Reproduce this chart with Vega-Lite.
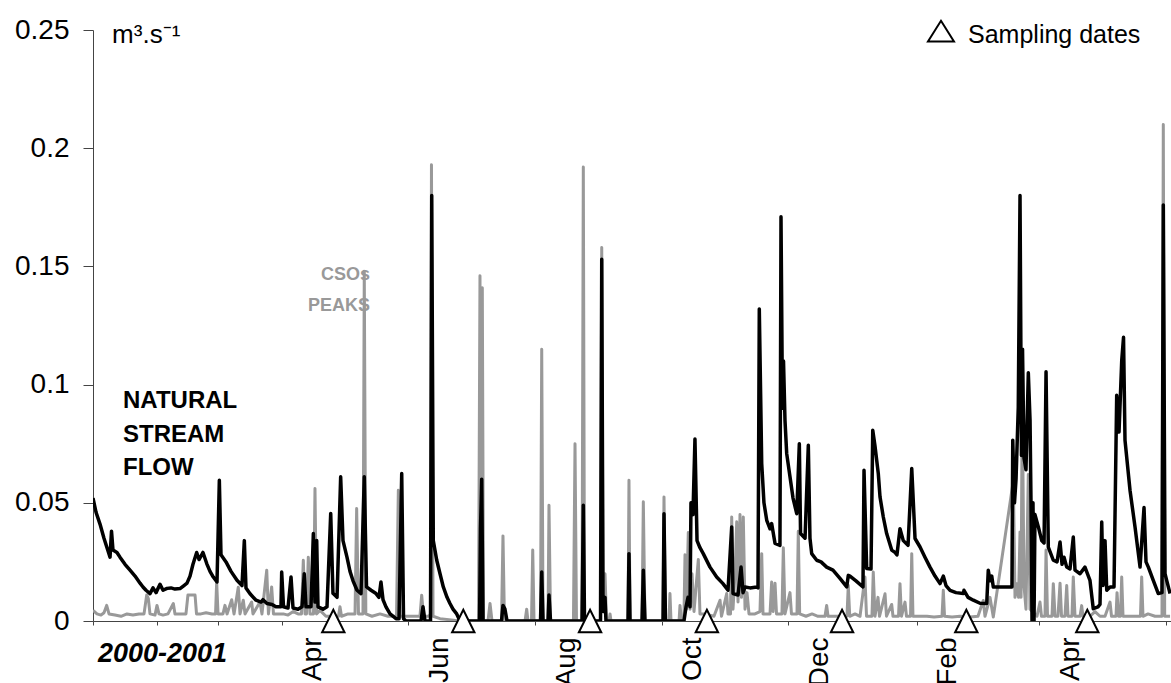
{
  "$schema": "https://vega.github.io/schema/vega-lite/v6.json",
  "width": 1078,
  "height": 591,
  "autosize": {"type": "none"},
  "padding": {"left": 93, "top": 30, "right": 0, "bottom": 62},
  "background": "white",
  "config": {"view": {"stroke": null}, "font": "Liberation Sans"},
  "datasets": {
    "flow": [
      {"t":"2000-01-01T00:00","q":0.052},{"t":"2000-01-02T11:00","q":0.046},{"t":"2000-01-04T09:00","q":0.041},{"t":"2000-01-06T07:00","q":0.035},
      {"t":"2000-01-07T18:00","q":0.031},{"t":"2000-01-09T05:00","q":0.027},{"t":"2000-01-09T22:00","q":0.038},{"t":"2000-01-10T15:00","q":0.030},
      {"t":"2000-01-12T13:00","q":0.029},{"t":"2000-01-14T00:00","q":0.027},{"t":"2000-01-16T10:00","q":0.024},{"t":"2000-01-18T20:00","q":0.0215},
      {"t":"2000-01-21T06:00","q":0.019},{"t":"2000-01-23T16:00","q":0.016},{"t":"2000-01-25T02:00","q":0.0144},{"t":"2000-01-26T13:00","q":0.013},
      {"t":"2000-01-28T11:00","q":0.0116},{"t":"2000-01-29T22:00","q":0.014},{"t":"2000-01-31T09:00","q":0.012},{"t":"2000-02-02T07:00","q":0.0155},
      {"t":"2000-02-03T18:00","q":0.013},{"t":"2000-02-05T16:00","q":0.0138},{"t":"2000-02-07T14:00","q":0.014},{"t":"2000-02-09T12:00","q":0.0135},
      {"t":"2000-02-11T22:00","q":0.0137},{"t":"2000-02-13T20:00","q":0.015},{"t":"2000-02-15T07:00","q":0.016},{"t":"2000-02-16T18:00","q":0.019},
      {"t":"2000-02-18T04:00","q":0.024},{"t":"2000-02-19T23:00","q":0.029},{"t":"2000-02-21T02:00","q":0.026},{"t":"2000-02-22T09:00","q":0.028},
      {"t":"2000-02-23T00:00","q":0.029},{"t":"2000-02-24T19:00","q":0.0243},{"t":"2000-02-26T09:00","q":0.021},{"t":"2000-02-27T23:00","q":0.0186},
      {"t":"2000-02-29T18:00","q":0.0165},{"t":"2000-03-01T21:00","q":0.0595},{"t":"2000-03-02T16:00","q":0.028},{"t":"2000-03-05T02:00","q":0.025},
      {"t":"2000-03-07T12:00","q":0.021},{"t":"2000-03-10T09:00","q":0.0172},{"t":"2000-03-12T19:00","q":0.015},{"t":"2000-03-13T22:00","q":0.034},
      {"t":"2000-03-14T17:00","q":0.014},{"t":"2000-03-16T16:00","q":0.0115},{"t":"2000-03-19T13:00","q":0.0088},{"t":"2000-03-21T23:00","q":0.008},
      {"t":"2000-03-22T22:00","q":0.009},{"t":"2000-03-24T20:00","q":0.0074},{"t":"2000-03-27T06:00","q":0.007},{"t":"2000-03-29T04:00","q":0.006},
      {"t":"2000-03-31T14:00","q":0.006},{"t":"2000-03-31T22:00","q":0.0207},{"t":"2000-04-01T19:00","q":0.006},{"t":"2000-04-03T23:00","q":0.0055},
      {"t":"2000-04-05T10:00","q":0.0186},{"t":"2000-04-06T09:00","q":0.0055},{"t":"2000-04-08T19:00","q":0.005},{"t":"2000-04-10T17:00","q":0.006},
      {"t":"2000-04-11T19:00","q":0.020},{"t":"2000-04-12T15:00","q":0.006},{"t":"2000-04-15T01:00","q":0.006},{"t":"2000-04-16T04:00","q":0.037},
      {"t":"2000-04-16T23:00","q":0.008},{"t":"2000-04-17T19:00","q":0.034},{"t":"2000-04-18T10:00","q":0.006},{"t":"2000-04-20T20:00","q":0.005},
      {"t":"2000-04-22T18:00","q":0.006},{"t":"2000-04-24T13:00","q":0.0455},{"t":"2000-04-25T15:00","q":0.0117},{"t":"2000-04-27T14:00","q":0.010},
      {"t":"2000-04-29T08:00","q":0.061},{"t":"2000-04-30T11:00","q":0.034},{"t":"2000-05-02T09:00","q":0.027},{"t":"2000-05-03T20:00","q":0.021},
      {"t":"2000-05-05T07:00","q":0.017},{"t":"2000-05-07T05:00","q":0.013},{"t":"2000-05-09T03:00","q":0.0116},{"t":"2000-05-10T17:00","q":0.061},
      {"t":"2000-05-11T19:00","q":0.0144},{"t":"2000-05-13T23:00","q":0.013},{"t":"2000-05-16T09:00","q":0.0116},{"t":"2000-05-17T19:00","q":0.010},
      {"t":"2000-05-18T18:00","q":0.0165},{"t":"2000-05-19T18:00","q":0.009},{"t":"2000-05-21T04:00","q":0.006},{"t":"2000-05-23T03:00","q":0.003},
      {"t":"2000-05-26T00:00","q":0.001},{"t":"2000-05-27T11:00","q":0.001},{"t":"2000-05-28T18:00","q":0.0624},{"t":"2000-05-29T15:00","q":0.001},
      {"t":"2000-05-30T19:00","q":0},{"t":"2000-06-07T01:00","q":0},{"t":"2000-06-08T00:00","q":0.006},{"t":"2000-06-08T23:00","q":0},
      {"t":"2000-06-11T15:00","q":0},{"t":"2000-06-12T05:00","q":0.180},{"t":"2000-06-12T23:00","q":0.034},{"t":"2000-06-14T15:00","q":0.0257},
      {"t":"2000-06-16T05:00","q":0.020},{"t":"2000-06-17T19:00","q":0.0144},{"t":"2000-06-19T14:00","q":0.010},{"t":"2000-06-21T00:00","q":0.0074},
      {"t":"2000-06-22T11:00","q":0.005},{"t":"2000-06-24T06:00","q":0.003},{"t":"2000-06-25T20:00","q":0},{"t":"2000-07-05T06:00","q":0},
      {"t":"2000-07-05T17:00","q":0.039},{"t":"2000-07-06T07:00","q":0.060},{"t":"2000-07-06T22:00","q":0},{"t":"2000-07-15T20:00","q":0},
      {"t":"2000-07-16T13:00","q":0.0066},{"t":"2000-07-17T12:00","q":0.005},{"t":"2000-07-18T12:00","q":0},{"t":"2000-08-03T15:00","q":0},
      {"t":"2000-08-04T05:00","q":0.0207},{"t":"2000-08-04T20:00","q":0},{"t":"2000-08-07T06:00","q":0},{"t":"2000-08-07T17:00","q":0.011},
      {"t":"2000-08-08T11:00","q":0},{"t":"2000-08-23T15:00","q":0},{"t":"2000-08-24T06:00","q":0.049},{"t":"2000-08-24T20:00","q":0},
      {"t":"2000-09-01T13:00","q":0},{"t":"2000-09-02T03:00","q":0.153},{"t":"2000-09-02T18:00","q":0.004},{"t":"2000-09-03T17:00","q":0.010},
      {"t":"2000-09-04T04:00","q":0},{"t":"2000-09-14T19:00","q":0},{"t":"2000-09-15T06:00","q":0.0285},{"t":"2000-09-15T18:00","q":0},
      {"t":"2000-09-21T13:00","q":0},{"t":"2000-09-22T04:00","q":0.0215},{"t":"2000-09-22T23:00","q":0},{"t":"2000-10-01T16:00","q":0},
      {"t":"2000-10-02T03:00","q":0.0454},{"t":"2000-10-02T20:00","q":0},{"t":"2000-10-11T18:00","q":0},{"t":"2000-10-12T18:00","q":0.006},
      {"t":"2000-10-13T17:00","q":0.010},{"t":"2000-10-14T16:00","q":0.006},{"t":"2000-10-15T03:00","q":0.050},{"t":"2000-10-16T02:00","q":0.045},
      {"t":"2000-10-17T01:00","q":0.077},{"t":"2000-10-18T01:00","q":0.034},{"t":"2000-10-19T11:00","q":0.031},{"t":"2000-10-21T01:00","q":0.0285},
      {"t":"2000-10-24T07:00","q":0.0228},{"t":"2000-10-27T12:00","q":0.0186},{"t":"2000-10-30T13:00","q":0.0158},{"t":"2000-11-01T23:00","q":0.013},
      {"t":"2000-11-03T18:00","q":0.0398},{"t":"2000-11-04T09:00","q":0.0116},{"t":"2000-11-06T19:00","q":0.011},{"t":"2000-11-08T06:00","q":0.0228},
      {"t":"2000-11-09T05:00","q":0.012},{"t":"2000-11-10T04:00","q":0.0144},{"t":"2000-11-12T14:00","q":0.014},{"t":"2000-11-15T19:00","q":0.0144},
      {"t":"2000-11-16T10:00","q":0.014},{"t":"2000-11-17T01:00","q":0.132},{"t":"2000-11-18T05:00","q":0.0666},{"t":"2000-11-19T07:00","q":0.050},
      {"t":"2000-11-20T15:00","q":0.0426},{"t":"2000-11-22T05:00","q":0.039},{"t":"2000-11-23T00:00","q":0.0412},{"t":"2000-11-24T15:00","q":0.0328},
      {"t":"2000-11-27T00:00","q":0.032},{"t":"2000-11-27T12:00","q":0.171},{"t":"2000-11-28T05:00","q":0.09},{"t":"2000-11-28T17:00","q":0.11},
      {"t":"2000-11-29T10:00","q":0.085},{"t":"2000-11-30T06:00","q":0.0708},{"t":"2000-12-01T20:00","q":0.061},{"t":"2000-12-03T07:00","q":0.052},
      {"t":"2000-12-05T02:00","q":0.0454},{"t":"2000-12-06T08:00","q":0.075},{"t":"2000-12-06T22:00","q":0.037},{"t":"2000-12-09T02:00","q":0.035},
      {"t":"2000-12-10T16:00","q":0.0743},{"t":"2000-12-11T11:00","q":0.035},{"t":"2000-12-12T07:00","q":0.0285},{"t":"2000-12-14T17:00","q":0.0257},
      {"t":"2000-12-16T19:00","q":0.025},{"t":"2000-12-19T12:00","q":0.0228},{"t":"2000-12-22T13:00","q":0.0215},{"t":"2000-12-25T22:00","q":0.018},
      {"t":"2000-12-29T04:00","q":0.0144},{"t":"2000-12-29T22:00","q":0.0193},{"t":"2000-12-30T18:00","q":0.019},{"t":"2001-01-02T15:00","q":0.017},
      {"t":"2001-01-06T00:00","q":0.0144},{"t":"2001-01-06T12:00","q":0.0638},{"t":"2001-01-07T19:00","q":0.0222},{"t":"2001-01-09T21:00","q":0.022},
      {"t":"2001-01-10T17:00","q":0.0807},{"t":"2001-01-11T19:00","q":0.074},{"t":"2001-01-13T09:00","q":0.0624},{"t":"2001-01-14T05:00","q":0.0525},
      {"t":"2001-01-15T19:00","q":0.044},{"t":"2001-01-17T10:00","q":0.037},{"t":"2001-01-19T20:00","q":0.030},{"t":"2001-01-21T10:00","q":0.029},
      {"t":"2001-01-22T09:00","q":0.028},{"t":"2001-01-23T20:00","q":0.039},{"t":"2001-01-25T10:00","q":0.034},{"t":"2001-01-27T17:00","q":0.032},
      {"t":"2001-01-29T12:00","q":0.0645},{"t":"2001-01-31T02:00","q":0.0349},{"t":"2001-02-02T12:00","q":0.0313},{"t":"2001-02-04T21:00","q":0.027},
      {"t":"2001-02-07T07:00","q":0.0228},{"t":"2001-02-09T17:00","q":0.019},{"t":"2001-02-12T03:00","q":0.0158},{"t":"2001-02-13T17:00","q":0.019},
      {"t":"2001-02-15T00:00","q":0.015},{"t":"2001-02-16T23:00","q":0.013},{"t":"2001-02-19T20:00","q":0.012},{"t":"2001-02-23T08:00","q":0.0116},
      {"t":"2001-02-23T16:00","q":0.013},{"t":"2001-02-25T15:00","q":0.010},{"t":"2001-02-28T04:00","q":0.0088},{"t":"2001-03-03T09:00","q":0.0075},
      {"t":"2001-03-06T15:00","q":0.0074},{"t":"2001-03-07T09:00","q":0.0215},{"t":"2001-03-08T05:00","q":0.017},{"t":"2001-03-09T01:00","q":0.019},
      {"t":"2001-03-09T19:00","q":0.0144},{"t":"2001-03-18T19:00","q":0.0144},{"t":"2001-03-19T04:00","q":0.0765},{"t":"2001-03-20T00:00","q":0.050},
      {"t":"2001-03-20T18:00","q":0.060},{"t":"2001-03-21T20:00","q":0.0906},{"t":"2001-03-22T16:00","q":0.180},{"t":"2001-03-23T09:00","q":0.070},
      {"t":"2001-03-23T21:00","q":0.115},{"t":"2001-03-24T14:00","q":0.069},{"t":"2001-03-25T13:00","q":0.064},{"t":"2001-03-26T16:00","q":0.105},
      {"t":"2001-03-27T12:00","q":0.085},{"t":"2001-03-27T23:00","q":0.050},{"t":"2001-03-28T11:00","q":0},{"t":"2001-03-28T22:00","q":0.050},
      {"t":"2001-03-29T10:00","q":0},{"t":"2001-03-29T21:00","q":0.045},{"t":"2001-03-31T12:00","q":0.0398},{"t":"2001-04-02T03:00","q":0.034},
      {"t":"2001-04-03T06:00","q":0.033},{"t":"2001-04-04T05:00","q":0.1054},{"t":"2001-04-05T07:00","q":0.0313},{"t":"2001-04-07T17:00","q":0.0257},
      {"t":"2001-04-09T12:00","q":0.025},{"t":"2001-04-10T23:00","q":0.0334},{"t":"2001-04-11T22:00","q":0.024},{"t":"2001-04-12T21:00","q":0.027},
      {"t":"2001-04-14T04:00","q":0.0228},{"t":"2001-04-15T18:00","q":0.022},{"t":"2001-04-17T08:00","q":0.0355},{"t":"2001-04-18T04:00","q":0.0215},
      {"t":"2001-04-20T14:00","q":0.020},{"t":"2001-04-22T23:00","q":0.0228},{"t":"2001-04-25T09:00","q":0.0172},{"t":"2001-04-26T23:00","q":0.0052},
      {"t":"2001-04-29T06:00","q":0.006},{"t":"2001-04-30T05:00","q":0.007},{"t":"2001-05-01T01:00","q":0.0419},{"t":"2001-05-01T16:00","q":0.015},
      {"t":"2001-05-02T15:00","q":0.034},{"t":"2001-05-03T11:00","q":0.013},{"t":"2001-05-05T01:00","q":0.0144},{"t":"2001-05-06T23:00","q":0.0144},
      {"t":"2001-05-08T06:00","q":0.0955},{"t":"2001-05-09T09:00","q":0.080},{"t":"2001-05-10T16:00","q":0.110},{"t":"2001-05-11T13:00","q":0.120},
      {"t":"2001-05-12T06:00","q":0.0765},{"t":"2001-05-14T16:00","q":0.0553},{"t":"2001-05-17T02:00","q":0.0398},{"t":"2001-05-19T12:00","q":0.0228},
      {"t":"2001-05-21T10:00","q":0.048},{"t":"2001-05-22T09:00","q":0.025},{"t":"2001-05-23T12:00","q":0.0228},{"t":"2001-05-25T21:00","q":0.0172},
      {"t":"2001-05-28T07:00","q":0.0116},{"t":"2001-05-30T02:00","q":0.012},{"t":"2001-05-30T17:00","q":0.176},{"t":"2001-05-31T13:00","q":0.020},
      {"t":"2001-06-01T08:00","q":0.0172},{"t":"2001-06-02T23:00","q":0.0116}
    ],
    "cso": [
      {"t":"2000-01-01T00:00","q":0.0045},{"t":"2000-01-02T22:00","q":0.003},{"t":"2000-01-04T20:00","q":0.0025},{"t":"2000-01-06T07:00","q":0.0035},
      {"t":"2000-01-07T14:00","q":0.0066},{"t":"2000-01-08T17:00","q":0.003},{"t":"2000-01-11T14:00","q":0.0025},{"t":"2000-01-14T12:00","q":0.002},
      {"t":"2000-01-17T09:00","q":0.003},{"t":"2000-01-20T06:00","q":0.0025},{"t":"2000-01-23T04:00","q":0.003},{"t":"2000-01-25T14:00","q":0.003},
      {"t":"2000-01-26T21:00","q":0.011},{"t":"2000-01-27T16:00","q":0.0095},{"t":"2000-01-28T11:00","q":0.003},{"t":"2000-01-30T21:00","q":0.0025},
      {"t":"2000-01-31T20:00","q":0.0066},{"t":"2000-02-01T19:00","q":0.003},{"t":"2000-02-03T18:00","q":0.0025},{"t":"2000-02-06T03:00","q":0.003},
      {"t":"2000-02-08T17:00","q":0.0074},{"t":"2000-02-09T12:00","q":0.003},{"t":"2000-02-11T22:00","q":0.003},{"t":"2000-02-14T19:00","q":0.003},
      {"t":"2000-02-15T18:00","q":0.011},{"t":"2000-02-19T04:00","q":0.011},{"t":"2000-02-19T21:00","q":0.003},{"t":"2000-02-22T01:00","q":0.003},
      {"t":"2000-02-24T11:00","q":0.0035},{"t":"2000-02-27T08:00","q":0.003},{"t":"2000-02-29T01:00","q":0.003},{"t":"2000-02-29T14:00","q":0.0165},
      {"t":"2000-03-01T06:00","q":0.003},{"t":"2000-03-03T15:00","q":0.003},{"t":"2000-03-04T14:00","q":0.0066},{"t":"2000-03-05T14:00","q":0.003},
      {"t":"2000-03-07T20:00","q":0.009},{"t":"2000-03-08T23:00","q":0.003},{"t":"2000-03-11T00:00","q":0.0143},{"t":"2000-03-11T20:00","q":0.003},
      {"t":"2000-03-13T10:00","q":0.0088},{"t":"2000-03-14T06:00","q":0.003},{"t":"2000-03-17T11:00","q":0.008},{"t":"2000-03-18T02:00","q":0.003},
      {"t":"2000-03-21T11:00","q":0.008},{"t":"2000-03-22T10:00","q":0.003},{"t":"2000-03-24T17:00","q":0.0215},{"t":"2000-03-25T13:00","q":0.003},
      {"t":"2000-03-27T02:00","q":0.0144},{"t":"2000-03-27T23:00","q":0.003},{"t":"2000-03-30T03:00","q":0.003},{"t":"2000-04-01T17:00","q":0.003},
      {"t":"2000-04-03T23:00","q":0.0025},{"t":"2000-04-06T12:00","q":0.004},{"t":"2000-04-08T19:00","q":0.003},{"t":"2000-04-10T11:00","q":0.003},
      {"t":"2000-04-11T08:00","q":0.0257},{"t":"2000-04-12T04:00","q":0.003},{"t":"2000-04-12T21:00","q":0.003},{"t":"2000-04-13T18:00","q":0.027},
      {"t":"2000-04-14T13:00","q":0.003},{"t":"2000-04-16T06:00","q":0.003},{"t":"2000-04-16T23:00","q":0.056},{"t":"2000-04-17T17:00","q":0.003},
      {"t":"2000-04-19T09:00","q":0.0045},{"t":"2000-04-22T06:00","q":0.002},{"t":"2000-04-25T04:00","q":0.002},{"t":"2000-04-28T07:00","q":0.002},
      {"t":"2000-04-29T00:00","q":0.006},{"t":"2000-04-29T18:00","q":0.002},{"t":"2000-05-02T21:00","q":0.003},{"t":"2000-05-06T06:00","q":0.003},
      {"t":"2000-05-07T01:00","q":0.0476},{"t":"2000-05-07T22:00","q":0.003},{"t":"2000-05-10T02:00","q":0.003},{"t":"2000-05-10T17:00","q":0.148},
      {"t":"2000-05-11T11:00","q":0.003},{"t":"2000-05-14T10:00","q":0.002},{"t":"2000-05-18T07:00","q":0.003},{"t":"2000-05-22T03:00","q":0.002},
      {"t":"2000-05-26T06:00","q":0.002},{"t":"2000-05-27T03:00","q":0.0553},{"t":"2000-05-27T22:00","q":0.002},{"t":"2000-05-30T19:00","q":0.002},
      {"t":"2000-06-03T16:00","q":0.002},{"t":"2000-06-06T13:00","q":0.002},{"t":"2000-06-07T09:00","q":0.0109},{"t":"2000-06-08T06:00","q":0.002},
      {"t":"2000-06-10T22:00","q":0.002},{"t":"2000-06-11T15:00","q":0.003},{"t":"2000-06-12T02:00","q":0.193},{"t":"2000-06-12T20:00","q":0.002},
      {"t":"2000-06-16T05:00","q":0.001},{"t":"2000-06-25T20:00","q":0},{"t":"2000-07-04T18:00","q":0},{"t":"2000-07-05T11:00","q":0.146},
      {"t":"2000-07-05T23:00","q":0.02},{"t":"2000-07-06T14:00","q":0.141},{"t":"2000-07-07T04:00","q":0},{"t":"2000-07-09T08:00","q":0},
      {"t":"2000-07-10T07:00","q":0.0074},{"t":"2000-07-11T06:00","q":0},{"t":"2000-07-15T20:00","q":0},{"t":"2000-07-16T13:00","q":0.036},
      {"t":"2000-07-17T06:00","q":0},{"t":"2000-07-27T04:00","q":0},{"t":"2000-07-27T23:00","q":0.005},{"t":"2000-07-28T14:00","q":0},
      {"t":"2000-07-30T07:00","q":0},{"t":"2000-07-30T21:00","q":0.030},{"t":"2000-07-31T12:00","q":0},{"t":"2000-08-03T15:00","q":0},
      {"t":"2000-08-04T05:00","q":0.115},{"t":"2000-08-04T20:00","q":0},{"t":"2000-08-07T06:00","q":0},{"t":"2000-08-07T17:00","q":0.049},
      {"t":"2000-08-08T11:00","q":0},{"t":"2000-08-19T12:00","q":0},{"t":"2000-08-20T06:00","q":0.075},{"t":"2000-08-20T23:00","q":0},
      {"t":"2000-08-23T15:00","q":0},{"t":"2000-08-24T06:00","q":0.192},{"t":"2000-08-24T20:00","q":0},{"t":"2000-09-01T13:00","q":0},
      {"t":"2000-09-02T03:00","q":0.158},{"t":"2000-09-02T18:00","q":0.005},{"t":"2000-09-03T17:00","q":0.020},{"t":"2000-09-04T10:00","q":0},
      {"t":"2000-09-05T15:00","q":0},{"t":"2000-09-06T03:00","q":0.003},{"t":"2000-09-06T14:00","q":0},{"t":"2000-09-14T19:00","q":0},
      {"t":"2000-09-15T06:00","q":0.0595},{"t":"2000-09-15T18:00","q":0},{"t":"2000-09-21T13:00","q":0},{"t":"2000-09-22T04:00","q":0.0504},
      {"t":"2000-09-22T23:00","q":0},{"t":"2000-10-01T16:00","q":0},{"t":"2000-10-02T03:00","q":0.0525},{"t":"2000-10-02T20:00","q":0},
      {"t":"2000-10-04T13:00","q":0},{"t":"2000-10-05T00:00","q":0.0116},{"t":"2000-10-05T12:00","q":0},{"t":"2000-10-09T09:00","q":0},
      {"t":"2000-10-09T20:00","q":0.0066},{"t":"2000-10-10T13:00","q":0},{"t":"2000-10-11T18:00","q":0.002},{"t":"2000-10-12T06:00","q":0.028},
      {"t":"2000-10-12T23:00","q":0.005},{"t":"2000-10-13T20:00","q":0.0374},{"t":"2000-10-14T16:00","q":0.005},{"t":"2000-10-15T15:00","q":0.02},
      {"t":"2000-10-16T14:00","q":0.004},{"t":"2000-10-18T16:00","q":0.026},{"t":"2000-10-19T11:00","q":0.003},{"t":"2000-10-21T21:00","q":0.003},
      {"t":"2000-10-26T05:00","q":0.002},{"t":"2000-10-29T03:00","q":0.0088},{"t":"2000-10-29T20:00","q":0.002},{"t":"2000-11-01T08:00","q":0.0116},
      {"t":"2000-11-01T23:00","q":0.003},{"t":"2000-11-03T04:00","q":0.003},{"t":"2000-11-03T18:00","q":0.044},{"t":"2000-11-04T09:00","q":0.005},
      {"t":"2000-11-05T08:00","q":0.02},{"t":"2000-11-06T04:00","q":0.042},{"t":"2000-11-06T19:00","q":0.008},{"t":"2000-11-07T18:00","q":0.045},
      {"t":"2000-11-08T11:00","q":0.01},{"t":"2000-11-09T08:00","q":0.044},{"t":"2000-11-10T04:00","q":0.005},{"t":"2000-11-11T03:00","q":0.012},
      {"t":"2000-11-12T02:00","q":0.003},{"t":"2000-11-14T23:00","q":0.003},{"t":"2000-11-17T09:00","q":0.004},{"t":"2000-11-18T05:00","q":0.0285},
      {"t":"2000-11-18T20:00","q":0.003},{"t":"2000-11-22T05:00","q":0.003},{"t":"2000-11-23T00:00","q":0.0165},{"t":"2000-11-23T16:00","q":0.004},
      {"t":"2000-11-24T15:00","q":0.016},{"t":"2000-11-25T08:00","q":0.003},{"t":"2000-11-27T23:00","q":0.003},{"t":"2000-11-28T15:00","q":0.031},
      {"t":"2000-11-29T10:00","q":0.003},{"t":"2000-12-01T20:00","q":0.012},{"t":"2000-12-02T13:00","q":0.003},{"t":"2000-12-05T05:00","q":0.003},
      {"t":"2000-12-05T20:00","q":0.038},{"t":"2000-12-06T12:00","q":0.003},{"t":"2000-12-09T13:00","q":0.002},{"t":"2000-12-12T11:00","q":0.003},
      {"t":"2000-12-15T08:00","q":0.002},{"t":"2000-12-18T17:00","q":0.002},{"t":"2000-12-19T12:00","q":0.0066},{"t":"2000-12-20T04:00","q":0.002},
      {"t":"2000-12-23T12:00","q":0.002},{"t":"2000-12-26T22:00","q":0.002},{"t":"2000-12-29T07:00","q":0.002},{"t":"2000-12-29T22:00","q":0.0151},
      {"t":"2000-12-30T15:00","q":0.002},{"t":"2001-01-02T04:00","q":0.003},{"t":"2001-01-04T14:00","q":0.002},{"t":"2001-01-06T23:00","q":0.0186},
      {"t":"2001-01-07T17:00","q":0.002},{"t":"2001-01-10T08:00","q":0.002},{"t":"2001-01-10T23:00","q":0.0207},{"t":"2001-01-11T19:00","q":0.002},
      {"t":"2001-01-13T06:00","q":0.010},{"t":"2001-01-13T23:00","q":0.002},{"t":"2001-01-16T15:00","q":0.0115},{"t":"2001-01-17T08:00","q":0.002},
      {"t":"2001-01-19T20:00","q":0.007},{"t":"2001-01-20T11:00","q":0.002},{"t":"2001-01-23T03:00","q":0.002},{"t":"2001-01-23T20:00","q":0.0158},
      {"t":"2001-01-24T13:00","q":0.002},{"t":"2001-01-26T06:00","q":0.008},{"t":"2001-01-26T23:00","q":0.002},{"t":"2001-01-28T22:00","q":0.002},
      {"t":"2001-01-29T12:00","q":0.0285},{"t":"2001-01-30T02:00","q":0.002},{"t":"2001-02-02T12:00","q":0.002},{"t":"2001-02-05T20:00","q":0.002},
      {"t":"2001-02-09T06:00","q":0.0017},{"t":"2001-02-13T02:00","q":0.002},{"t":"2001-02-13T17:00","q":0.013},{"t":"2001-02-14T07:00","q":0.002},
      {"t":"2001-02-17T22:00","q":0.0017},{"t":"2001-02-21T18:00","q":0.002},{"t":"2001-02-26T14:00","q":0.0017},{"t":"2001-03-02T10:00","q":0.002},
      {"t":"2001-03-04T23:00","q":0.0087},{"t":"2001-03-05T19:00","q":0.002},{"t":"2001-03-08T05:00","q":0.010},{"t":"2001-03-09T19:00","q":0.0017},
      {"t":"2001-03-19T11:00","q":0.0595},{"t":"2001-03-20T06:00","q":0.01},{"t":"2001-03-21T02:00","q":0.0158},{"t":"2001-03-21T23:00","q":0.01},
      {"t":"2001-03-22T16:00","q":0.0377},{"t":"2001-03-23T04:00","q":0.01},{"t":"2001-03-23T18:00","q":0.095},{"t":"2001-03-24T14:00","q":0.015},
      {"t":"2001-03-25T13:00","q":0.005},{"t":"2001-03-26T16:00","q":0.062},{"t":"2001-03-27T12:00","q":0.005},{"t":"2001-03-30T20:00","q":0.002},
      {"t":"2001-04-01T07:00","q":0.008},{"t":"2001-04-02T00:00","q":0.002},{"t":"2001-04-03T17:00","q":0.002},{"t":"2001-04-04T05:00","q":0.030},
      {"t":"2001-04-04T22:00","q":0.002},{"t":"2001-04-07T02:00","q":0.002},{"t":"2001-04-07T17:00","q":0.0158},{"t":"2001-04-08T13:00","q":0.002},
      {"t":"2001-04-09T23:00","q":0.002},{"t":"2001-04-10T23:00","q":0.016},{"t":"2001-04-11T16:00","q":0.002},{"t":"2001-04-13T08:00","q":0.002},
      {"t":"2001-04-14T04:00","q":0.015},{"t":"2001-04-14T19:00","q":0.002},{"t":"2001-04-16T17:00","q":0.002},{"t":"2001-04-17T08:00","q":0.0186},
      {"t":"2001-04-18T04:00","q":0.002},{"t":"2001-04-20T14:00","q":0.002},{"t":"2001-04-21T09:00","q":0.0065},{"t":"2001-04-22T00:00","q":0.002},
      {"t":"2001-04-25T09:00","q":0.002},{"t":"2001-04-27T19:00","q":0.004},{"t":"2001-04-30T05:00","q":0.002},{"t":"2001-05-02T15:00","q":0.002},
      {"t":"2001-05-05T01:00","q":0.008},{"t":"2001-05-05T18:00","q":0.002},{"t":"2001-05-07T22:00","q":0.002},{"t":"2001-05-08T10:00","q":0.012},
      {"t":"2001-05-09T03:00","q":0.002},{"t":"2001-05-10T02:00","q":0.002},{"t":"2001-05-10T16:00","q":0.0186},{"t":"2001-05-11T07:00","q":0.002},
      {"t":"2001-05-14T16:00","q":0.002},{"t":"2001-05-17T02:00","q":0.002},{"t":"2001-05-19T17:00","q":0.002},{"t":"2001-05-20T07:00","q":0.0186},
      {"t":"2001-05-20T22:00","q":0.002},{"t":"2001-05-23T08:00","q":0.003},{"t":"2001-05-26T17:00","q":0.002},{"t":"2001-05-30T02:00","q":0.002},
      {"t":"2001-05-30T17:00","q":0.21},{"t":"2001-05-31T09:00","q":0.002},{"t":"2001-06-02T23:00","q":0.002}
    ],
    "samples": [
      {"t":"2000-04-25T19:00"},{"t":"2000-06-27T10:00"},{"t":"2000-08-27T12:00"},{"t":"2000-10-22T19:00"},
      {"t":"2000-12-26T22:00"},{"t":"2001-02-24T19:00"},{"t":"2001-04-24T02:00"}
    ],
    "one": [{"k": 1}]
  },
  "layer": [
    {
      "data": {"name": "cso"},
      "mark": {"type": "line", "color": "#999999", "strokeWidth": 3, "strokeJoin": "round", "clip": true},
      "encoding": {
        "x": {
          "field": "t", "type": "temporal",
          "scale": {"domain": [{"year": 2000, "month": 1, "date": 1}, {"year": 2001, "month": 6, "date": 3, "hours": 10}], "nice": false},
          "axis": {
            "title": null, "grid": false,
            "values": [
              {"year": 2000, "month": 1, "date": 1}, {"year": 2000, "month": 2, "date": 1}, {"year": 2000, "month": 3, "date": 1},
              {"year": 2000, "month": 4, "date": 1}, {"year": 2000, "month": 6, "date": 1}, {"year": 2000, "month": 8, "date": 1},
              {"year": 2000, "month": 10, "date": 1}, {"year": 2000, "month": 12, "date": 1}, {"year": 2001, "month": 2, "date": 1},
              {"year": 2001, "month": 4, "date": 1}, {"year": 2001, "month": 6, "date": 1}
            ],
            "labelExpr": "datum.value >= datetime(2000,3,1) && datum.value <= datetime(2001,3,2) ? timeFormat(datum.value, '%b') : ''",
            "labelAngle": -90, "labelOffset": 31, "labelFontSize": 28, "labelFont": "Liberation Sans", "labelColor": "black",
            "labelPadding": 12, "tickSize": 4, "tickColor": "#444444", "domainColor": "#444444",
            "labelFlush": false, "labelOverlap": false, "labelBound": false
          }
        },
        "y": {
          "field": "q", "type": "quantitative",
          "scale": {"domain": [0, 0.25], "nice": false},
          "axis": {
            "title": null, "grid": false, "values": [0, 0.05, 0.1, 0.15, 0.2, 0.25], "format": "~g",
            "labelFontSize": 28, "labelFont": "Liberation Sans", "labelColor": "black", "labelPadding": 14,
            "tickSize": 10, "tickColor": "#444444", "domainColor": "#444444"
          }
        }
      }
    },
    {
      "data": {"name": "flow"},
      "mark": {"type": "line", "color": "#000000", "strokeWidth": 3.5, "strokeJoin": "round", "clip": true},
      "encoding": {
        "x": {"field": "t", "type": "temporal"},
        "y": {"field": "q", "type": "quantitative"}
      }
    },
    {
      "data": {"name": "samples"},
      "mark": {"type": "point", "shape": "M0,-1L1,1L-1,1Z", "size": 500, "filled": true, "fill": "white", "stroke": "black", "strokeWidth": 2, "opacity": 1},
      "encoding": {
        "x": {"field": "t", "type": "temporal"},
        "y": {"datum": 0}
      }
    },
    {
      "data": {"name": "one"},
      "mark": {"type": "point", "shape": "M0,-0.8L1,0.8L-1,0.8Z", "size": 676, "filled": true, "fill": "white", "stroke": "black", "strokeWidth": 2, "opacity": 1},
      "encoding": {
        "x": {"datum": {"year": 2001, "month": 2, "date": 12, "hours": 14}, "type": "temporal"},
        "y": {"datum": 0.2495}
      }
    },
    {
      "data": {"name": "one"},
      "mark": {"type": "text", "text": "Sampling dates", "align": "left", "baseline": "alphabetic", "fontSize": 25, "font": "Liberation Sans", "color": "black"},
      "encoding": {
        "x": {"datum": {"year": 2001, "month": 2, "date": 25, "hours": 15}, "type": "temporal"},
        "y": {"datum": 0.2445}
      }
    },
    {
      "data": {"name": "one"},
      "mark": {"type": "text", "text": "m³.s⁻¹", "align": "left", "baseline": "alphabetic", "fontSize": 26, "font": "Liberation Sans", "color": "black"},
      "encoding": {
        "x": {"datum": {"year": 2000, "month": 1, "date": 10, "hours": 5}, "type": "temporal"},
        "y": {"datum": 0.2445}
      }
    },
    {
      "data": {"name": "one"},
      "mark": {"type": "text", "text": "NATURAL", "align": "left", "baseline": "alphabetic", "fontSize": 24, "fontWeight": "bold", "font": "Liberation Sans", "color": "black"},
      "encoding": {
        "x": {"datum": {"year": 2000, "month": 1, "date": 15, "hours": 11}, "type": "temporal"},
        "y": {"datum": 0.0899}
      }
    },
    {
      "data": {"name": "one"},
      "mark": {"type": "text", "text": "STREAM", "align": "left", "baseline": "alphabetic", "fontSize": 24, "fontWeight": "bold", "font": "Liberation Sans", "color": "black"},
      "encoding": {
        "x": {"datum": {"year": 2000, "month": 1, "date": 15, "hours": 11}, "type": "temporal"},
        "y": {"datum": 0.0757}
      }
    },
    {
      "data": {"name": "one"},
      "mark": {"type": "text", "text": "FLOW", "align": "left", "baseline": "alphabetic", "fontSize": 24, "fontWeight": "bold", "font": "Liberation Sans", "color": "black"},
      "encoding": {
        "x": {"datum": {"year": 2000, "month": 1, "date": 15, "hours": 11}, "type": "temporal"},
        "y": {"datum": 0.0616}
      }
    },
    {
      "data": {"name": "one"},
      "mark": {"type": "text", "text": "CSOs", "align": "right", "baseline": "alphabetic", "fontSize": 18, "fontWeight": "bold", "font": "Liberation Sans", "color": "#999999"},
      "encoding": {
        "x": {"datum": {"year": 2000, "month": 5, "date": 13, "hours": 12}, "type": "temporal"},
        "y": {"datum": 0.1441}
      }
    },
    {
      "data": {"name": "one"},
      "mark": {"type": "text", "text": "PEAKS", "align": "right", "baseline": "alphabetic", "fontSize": 18, "fontWeight": "bold", "font": "Liberation Sans", "color": "#999999"},
      "encoding": {
        "x": {"datum": {"year": 2000, "month": 5, "date": 13, "hours": 12}, "type": "temporal"},
        "y": {"datum": 0.1311}
      }
    },
    {
      "data": {"name": "one"},
      "mark": {"type": "text", "text": "2000-2001", "align": "left", "baseline": "alphabetic", "fontSize": 27, "fontWeight": "bold", "fontStyle": "italic", "font": "Liberation Sans", "color": "black"},
      "encoding": {
        "x": {"datum": {"year": 2000, "month": 1, "date": 3, "hours": 10}, "type": "temporal"},
        "y": {"datum": -0.0175}
      }
    }
  ]
}
